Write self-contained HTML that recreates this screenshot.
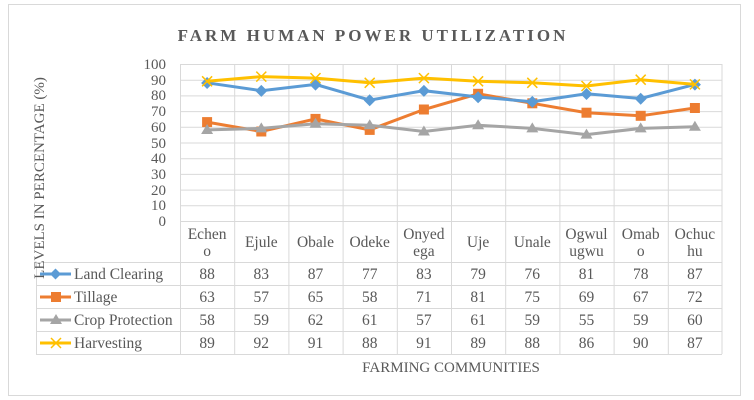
<!DOCTYPE html>
<html><head><meta charset="utf-8"><style>
html,body{margin:0;padding:0;background:#fff;}
svg{display:block;font-family:"Liberation Serif",serif;}
</style></head><body>
<svg width="754" height="400" viewBox="0 0 754 400" xmlns="http://www.w3.org/2000/svg">
<rect x="8.5" y="4.5" width="732" height="391" fill="#fff" stroke="#d9d9d9"/>
<text x="373" y="41" text-anchor="middle" font-size="17" font-weight="bold" fill="#595959" letter-spacing="3">FARM HUMAN POWER UTILIZATION</text>
<g stroke="#d9d9d9" stroke-width="1">
<line x1="180" y1="64.5" x2="722" y2="64.5"/><line x1="180" y1="80.2" x2="722" y2="80.2"/><line x1="180" y1="95.9" x2="722" y2="95.9"/><line x1="180" y1="111.6" x2="722" y2="111.6"/><line x1="180" y1="127.3" x2="722" y2="127.3"/><line x1="180" y1="143" x2="722" y2="143"/><line x1="180" y1="158.7" x2="722" y2="158.7"/><line x1="180" y1="174.4" x2="722" y2="174.4"/><line x1="180" y1="190.1" x2="722" y2="190.1"/><line x1="180" y1="205.8" x2="722" y2="205.8"/><line x1="180" y1="221.5" x2="722" y2="221.5"/>
<line x1="36" y1="262.5" x2="722" y2="262.5"/><line x1="36" y1="285.5" x2="722" y2="285.5"/><line x1="36" y1="308.5" x2="722" y2="308.5"/><line x1="36" y1="331.5" x2="722" y2="331.5"/><line x1="36" y1="354.5" x2="722" y2="354.5"/>
<line x1="36.5" y1="262" x2="36.5" y2="354"/>
<line x1="180.5" y1="64" x2="180.5" y2="354"/><line x1="234.7" y1="64" x2="234.7" y2="354"/><line x1="288.9" y1="64" x2="288.9" y2="354"/><line x1="343.1" y1="64" x2="343.1" y2="354"/><line x1="397.3" y1="64" x2="397.3" y2="354"/><line x1="451.5" y1="64" x2="451.5" y2="354"/><line x1="505.7" y1="64" x2="505.7" y2="354"/><line x1="559.9" y1="64" x2="559.9" y2="354"/><line x1="614.1" y1="64" x2="614.1" y2="354"/><line x1="668.3" y1="64" x2="668.3" y2="354"/><line x1="722" y1="64" x2="722" y2="354"/>
</g>
<g font-size="15" fill="#595959" text-anchor="end">
<text x="166" y="69">100</text><text x="166" y="85">90</text><text x="166" y="100">80</text><text x="166" y="116">70</text><text x="166" y="132">60</text><text x="166" y="148">50</text><text x="166" y="163">40</text><text x="166" y="179">30</text><text x="166" y="195">20</text><text x="166" y="210">10</text><text x="166" y="226">0</text>
</g>
<text transform="translate(44,178) rotate(-90)" text-anchor="middle" font-size="15" fill="#595959">LEVELS IN PERCENTAGE (%)</text>
<text x="451" y="372" text-anchor="middle" font-size="15" fill="#595959">FARMING COMMUNITIES</text>
<g font-size="15.5" fill="#595959" text-anchor="middle">
<text x="207.1" y="239">Echen</text><text x="207.1" y="256">o</text>
<text x="261.3" y="247">Ejule</text>
<text x="315.5" y="247">Obale</text>
<text x="369.7" y="247">Odeke</text>
<text x="423.9" y="239">Onyed</text><text x="423.9" y="256">ega</text>
<text x="478.1" y="247">Uje</text>
<text x="532.3" y="247">Unale</text>
<text x="586.5" y="239">Ogwul</text><text x="586.5" y="256">ugwu</text>
<text x="640.7" y="239">Omab</text><text x="640.7" y="256">o</text>
<text x="694.9" y="239">Ochuc</text><text x="694.9" y="256">hu</text>
</g>
<g font-size="15.5" fill="#595959" text-anchor="middle">
<g transform="translate(0,279)"><text x="207.1">88</text><text x="261.3">83</text><text x="315.5">87</text><text x="369.7">77</text><text x="423.9">83</text><text x="478.1">79</text><text x="532.3">76</text><text x="586.5">81</text><text x="640.7">78</text><text x="694.9">87</text></g>
<g transform="translate(0,302)"><text x="207.1">63</text><text x="261.3">57</text><text x="315.5">65</text><text x="369.7">58</text><text x="423.9">71</text><text x="478.1">81</text><text x="532.3">75</text><text x="586.5">69</text><text x="640.7">67</text><text x="694.9">72</text></g>
<g transform="translate(0,325)"><text x="207.1">58</text><text x="261.3">59</text><text x="315.5">62</text><text x="369.7">61</text><text x="423.9">57</text><text x="478.1">61</text><text x="532.3">59</text><text x="586.5">55</text><text x="640.7">59</text><text x="694.9">60</text></g>
<g transform="translate(0,348)"><text x="207.1">89</text><text x="261.3">92</text><text x="315.5">91</text><text x="369.7">88</text><text x="423.9">91</text><text x="478.1">89</text><text x="532.3">88</text><text x="586.5">86</text><text x="640.7">90</text><text x="694.9">87</text></g>
</g>
<g font-size="15.5" fill="#595959">
<text x="74" y="279">Land Clearing</text><text x="74" y="302">Tillage</text><text x="74" y="325">Crop Protection</text><text x="74" y="348">Harvesting</text>
</g>
<line x1="40" y1="274" x2="71" y2="274" stroke="#5B9BD5" stroke-width="3"/><path d="M55.5 268.5 L61 274 L55.5 279.5 L50 274Z" fill="#5B9BD5"/>
<line x1="40" y1="297" x2="71" y2="297" stroke="#ED7D31" stroke-width="3"/><rect x="51" y="292" width="10" height="10" fill="#ED7D31"/>
<line x1="40" y1="320" x2="71" y2="320" stroke="#A5A5A5" stroke-width="3"/><path d="M56 314 L62 324 L50 324Z" fill="#A5A5A5"/>
<line x1="40" y1="343" x2="71" y2="343" stroke="#FFC000" stroke-width="3"/><path d="M51 338 L61 348 M61 338 L51 348" stroke="#FFC000" stroke-width="1.5"/>
<polyline fill="none" stroke="#ED7D31" stroke-width="3" points="207.1,122.1 261.3,131.5 315.5,118.9 369.7,129.9 423.9,109.5 478.1,93.8 532.3,103.3 586.5,112.7 640.7,115.8 694.9,108"/>
<g fill="#ED7D31"><rect x="202.1" y="117.1" width="10" height="10"/><rect x="256.3" y="126.5" width="10" height="10"/><rect x="310.5" y="113.9" width="10" height="10"/><rect x="364.7" y="124.9" width="10" height="10"/><rect x="418.9" y="104.5" width="10" height="10"/><rect x="473.1" y="88.8" width="10" height="10"/><rect x="527.3" y="98.3" width="10" height="10"/><rect x="581.5" y="107.7" width="10" height="10"/><rect x="635.7" y="110.8" width="10" height="10"/><rect x="689.9" y="103" width="10" height="10"/></g>
<polyline fill="none" stroke="#A5A5A5" stroke-width="3" points="207.1,129.9 261.3,128.4 315.5,123.7 369.7,125.2 423.9,131.5 478.1,125.2 532.3,128.4 586.5,134.6 640.7,128.4 694.9,126.8"/>
<g fill="#A5A5A5">
<path d="M207.1 124 l6 10 h-12z"/><path d="M261.3 122.4 l6 10 h-12z"/><path d="M315.5 117.7 l6 10 h-12z"/><path d="M369.7 119.2 l6 10 h-12z"/><path d="M423.9 125.5 l6 10 h-12z"/><path d="M478.1 119.2 l6 10 h-12z"/><path d="M532.3 122.4 l6 10 h-12z"/><path d="M586.5 128.6 l6 10 h-12z"/><path d="M640.7 122.4 l6 10 h-12z"/><path d="M694.9 120.8 l6 10 h-12z"/></g>
<polyline fill="none" stroke="#5B9BD5" stroke-width="3" points="207.1,82.8 261.3,90.7 315.5,84.4 369.7,100.1 423.9,90.7 478.1,97 532.3,101.7 586.5,93.8 640.7,98.5 694.9,84.4"/>
<g fill="#5B9BD5">
<path d="M207.1 77 l6 6 l-6 6 l-6 -6z"/><path d="M261.3 84.9 l6 6 l-6 6 l-6 -6z"/><path d="M315.5 78.6 l6 6 l-6 6 l-6 -6z"/><path d="M369.7 94.3 l6 6 l-6 6 l-6 -6z"/><path d="M423.9 84.9 l6 6 l-6 6 l-6 -6z"/><path d="M478.1 91.2 l6 6 l-6 6 l-6 -6z"/><path d="M532.3 95.9 l6 6 l-6 6 l-6 -6z"/><path d="M586.5 88 l6 6 l-6 6 l-6 -6z"/><path d="M640.7 92.7 l6 6 l-6 6 l-6 -6z"/><path d="M694.9 78.6 l6 6 l-6 6 l-6 -6z"/></g>
<polyline fill="none" stroke="#FFC000" stroke-width="3" points="207.1,81.3 261.3,76.6 315.5,78.1 369.7,82.8 423.9,78.1 478.1,81.3 532.3,82.8 586.5,86 640.7,79.7 694.9,84.4"/>
<g stroke="#FFC000" stroke-width="1.5" fill="none">
<path d="M202.1 76.3 l10 10 m0 -10 l-10 10"/><path d="M256.3 71.6 l10 10 m0 -10 l-10 10"/><path d="M310.5 73.1 l10 10 m0 -10 l-10 10"/><path d="M364.7 77.8 l10 10 m0 -10 l-10 10"/><path d="M418.9 73.1 l10 10 m0 -10 l-10 10"/><path d="M473.1 76.3 l10 10 m0 -10 l-10 10"/><path d="M527.3 77.8 l10 10 m0 -10 l-10 10"/><path d="M581.5 81 l10 10 m0 -10 l-10 10"/><path d="M635.7 74.7 l10 10 m0 -10 l-10 10"/><path d="M689.9 79.4 l10 10 m0 -10 l-10 10"/></g>
</svg>
</body></html>
